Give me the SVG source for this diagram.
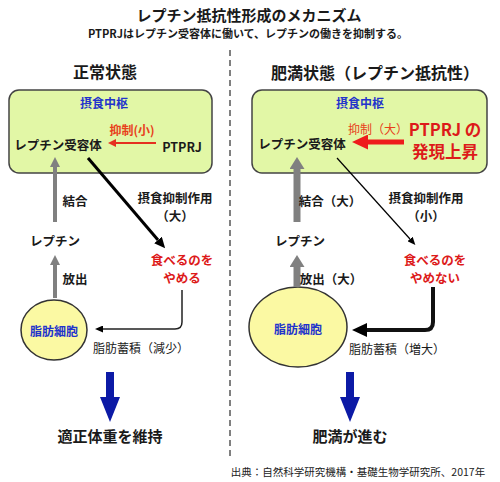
<svg xmlns="http://www.w3.org/2000/svg" width="500" height="482" viewBox="0 0 500 482">
<defs>
<style>
text{font-family:"Noto Sans CJK JP","Noto Sans",sans-serif;font-weight:bold;dominant-baseline:central;text-anchor:middle;fill:#1a1a1a}
.blue{fill:#2233cc}
.red{fill:#dd1a1a}
.org{fill:#e8401a;font-weight:normal}
.box{fill:#e2f7a6;stroke:#444;stroke-width:1.5}
.cell{fill:#fbf9a3;stroke:#333;stroke-width:1.5}
.ln{fill:none}
</style>
<marker id="hRedS" markerUnits="userSpaceOnUse" markerWidth="8" markerHeight="8" refX="0" refY="4" orient="auto"><path d="M0,0 L8,4 L0,8z" fill="#e53020"/></marker>
<marker id="hRedL" markerUnits="userSpaceOnUse" markerWidth="16" markerHeight="15" refX="0" refY="7.5" orient="auto"><path d="M0,0 L16,7.5 L0,15z" fill="#ee1c1c"/></marker>
<marker id="hGreyS" markerUnits="userSpaceOnUse" markerWidth="10" markerHeight="10" refX="0" refY="5" orient="auto"><path d="M0,0 L10,5 L0,10z" fill="#808080"/></marker>
<marker id="hGreyL" markerUnits="userSpaceOnUse" markerWidth="12" markerHeight="15" refX="0" refY="7.5" orient="auto"><path d="M0,0 L12,7.5 L0,15z" fill="#808080"/></marker>
<marker id="hBlkM" markerUnits="userSpaceOnUse" markerWidth="11" markerHeight="10" refX="0" refY="5" orient="auto"><path d="M0,0 L11,5 L0,10z" fill="#000"/></marker>
<marker id="hBlkS" markerUnits="userSpaceOnUse" markerWidth="8" markerHeight="7" refX="0" refY="3.5" orient="auto"><path d="M0,0 L8,3.5 L0,7z" fill="#000"/></marker>
<marker id="hBlkL" markerUnits="userSpaceOnUse" markerWidth="15" markerHeight="14" refX="0" refY="7" orient="auto"><path d="M0,0 L15,7 L0,14z" fill="#000"/></marker>
</defs>
<rect width="500" height="482" fill="#fff"/>

<g id="title">
<text x="249" y="14" style="font-size:15px">レプチン抵抗性形成のメカニズム</text>
<text x="248" y="33" style="font-size:11px">PTPRJはレプチン受容体に働いて、レプチンの働きを抑制する。</text>
</g>

<line x1="230" y1="50" x2="230" y2="456" stroke="#555" stroke-width="1.5" stroke-dasharray="6 4"/>

<g id="left-heading"><text x="105" y="71" style="font-size:16px">正常状態</text></g>
<g id="right-heading"><text x="375" y="72" style="font-size:16px">肥満状態（レプチン抵抗性）</text></g>

<g id="left-center">
<rect class="box" x="9" y="90" width="203" height="83" rx="10"/>
<text class="blue" x="104" y="102" style="font-size:12px">摂食中枢</text>
<text class="org" x="132" y="129" style="font-size:12px;font-weight:bold">抑制(小)</text>
<text x="58" y="144" style="font-size:12.5px">レプチン受容体</text>
<text x="182" y="146" style="font-size:12.5px">PTPRJ</text>
</g>

<g id="right-center">
<rect class="box" x="252" y="90" width="235" height="83" rx="10"/>
<text class="blue" x="360" y="102" style="font-size:12px">摂食中枢</text>
<text class="org" x="378" y="128" style="font-size:12px">抑制（大）</text>
<text x="302" y="143" style="font-size:12.5px">レプチン受容体</text>
<text class="red" style="font-size:16.5px"><tspan x="445" y="129">PTPRJ の</tspan><tspan x="445" y="151">発現上昇</tspan></text>
</g>

<g id="left-leptin"><text x="55" y="240" style="font-size:12.5px">レプチン</text></g>
<g id="right-leptin"><text x="300" y="240" style="font-size:12.5px">レプチン</text></g>

<g id="left-eat"><text class="red" style="font-size:12.5px"><tspan x="182" y="259">食べるのを</tspan><tspan x="182" y="277">やめる</tspan></text></g>
<g id="right-eat"><text class="red" style="font-size:12.5px"><tspan x="435" y="259">食べるのを</tspan><tspan x="435" y="277">やめない</tspan></text></g>

<g id="left-fat">
<ellipse class="cell" cx="54" cy="330" rx="33" ry="30"/>
<text class="blue" x="54" y="330" style="font-size:12px">脂肪細胞</text>
</g>
<g id="right-fat">
<ellipse class="cell" cx="298" cy="327" rx="49" ry="40"/>
<text class="blue" x="298" y="328" style="font-size:12px">脂肪細胞</text>
</g>

<g id="left-result"><text x="110" y="435" style="font-size:15px">適正体重を維持</text></g>
<g id="right-result"><text x="350" y="435" style="font-size:15px">肥満が進む</text></g>

<g id="source"><text x="358" y="471" style="font-size:10.5px;font-weight:normal;fill:#222">出典：自然科学研究機構・基礎生物学研究所、2017年</text></g>

<g id="connectors">
<line x1="156" y1="143" x2="116" y2="143" stroke="#e53020" stroke-width="2" marker-end="url(#hRedS)"/>
<line x1="55" y1="222" x2="55" y2="167" stroke="#808080" stroke-width="4" marker-end="url(#hGreyS)"/>
<text x="75" y="200" style="font-size:12.5px">結合</text>
<line x1="55" y1="298" x2="55" y2="265" stroke="#808080" stroke-width="4" marker-end="url(#hGreyS)"/>
<text x="75" y="278" style="font-size:12.5px">放出</text>
<line x1="88" y1="158" x2="158" y2="240" stroke="#000" stroke-width="3" marker-end="url(#hBlkM)"/>
<text style="font-size:12.5px"><tspan x="175" y="197">摂食抑制作用</tspan><tspan x="175" y="215">（大）</tspan></text>
<path class="ln" d="M182,290 V322 Q182,329 175,329 H103" stroke="#222" stroke-width="1.5" marker-end="url(#hBlkS)"/>
<text x="141" y="347" style="font-size:12px;font-weight:normal">脂肪蓄積（減少）</text>
<path d="M106,372 H114 V397 H120 L110,422 L100,397 H106z" fill="#0c1aa6"/>

<line x1="404" y1="142" x2="368" y2="142" stroke="#ee1c1c" stroke-width="5" marker-end="url(#hRedL)"/>
<line x1="297" y1="222" x2="297" y2="169" stroke="#808080" stroke-width="7" marker-end="url(#hGreyL)"/>
<text x="330" y="200" style="font-size:12.5px">結合（大）</text>
<line x1="297" y1="287" x2="297" y2="267" stroke="#808080" stroke-width="7" marker-end="url(#hGreyL)"/>
<text x="331" y="278" style="font-size:12.5px">放出（大）</text>
<line x1="337" y1="158" x2="410" y2="239" stroke="#000" stroke-width="1.2" marker-end="url(#hBlkS)"/>
<text style="font-size:12.5px"><tspan x="426" y="197">摂食抑制作用</tspan><tspan x="426" y="215">（小）</tspan></text>
<path class="ln" d="M433,287 V322 Q433,330 425,330 H367" stroke="#111" stroke-width="4" marker-end="url(#hBlkL)"/>
<text x="397" y="348" style="font-size:12px;font-weight:normal">脂肪蓄積（増大）</text>
<path d="M346,372 H354 V397 H360 L350,422 L340,397 H346z" fill="#0c1aa6"/>
</g>
</svg>
